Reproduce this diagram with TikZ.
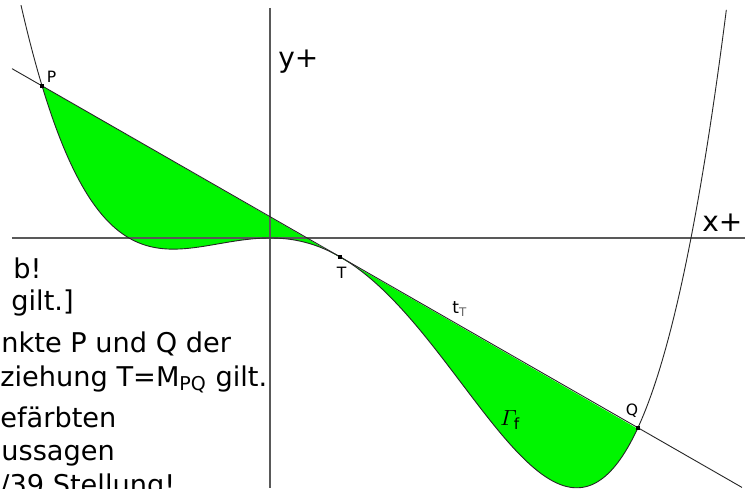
\documentclass[tikz,border=0pt]{standalone}
\usepackage{amsmath}
\usepackage{fontspec}
\setmainfont{DejaVu Sans}
\definecolor{gfill}{RGB}{0,245,0}
\begin{document}
\begin{tikzpicture}[x=50pt,y=50pt,
  declare function={f(\x)=0.05189*\x*\x*(\x+1.41)*(\x-4.21);
    df(\x)=0.05189*(4*\x*\x*\x-8.4*\x*\x-11.8722*\x);},
  axis/.style={draw=black!65, line width=0.75pt},
  graph/.style={draw=black!85, line width=0.45pt},
  ptmark/.style={fill=black, minimum size=2pt, inner sep=0pt, rectangle},
  body/.style={font=\fontsize{13.6}{16}\selectfont, anchor=base west, inner sep=0pt},
  axlabel/.style={font=\fontsize{14}{16}\selectfont, anchor=base west, inner sep=0pt},
  small/.style={font=\fontsize{7.8}{9}\selectfont, anchor=base west, inner sep=0pt}]
\useasboundingbox (-2.70,-2.50) rectangle (4.85,2.38);
\clip (-2.70,-2.50) rectangle (4.85,2.38);
\fill[white] (-2.70,-2.50) rectangle (4.85,2.38);
% key points
\coordinate (P) at (-2.279,{f(-2.279)});
\coordinate (T) at (0.70,{f(0.70)});
\coordinate (Q) at (3.679,{f(3.679)});
\coordinate (L1) at (-2.58,{f(0.7)+df(0.7)*(-2.58-0.7)});
\coordinate (L2) at (4.72,{f(0.7)+df(0.7)*(4.72-0.7)});
\coordinate (XA) at (-2.58,0);
\coordinate (XB) at (4.75,0);
\coordinate (YA) at (0,2.30);
\coordinate (YB) at (0,-2.50);
% text of the slide behind
\node[body] (t1) at (-2.57,-0.40) {b!};
\node[body] (t2) at (-2.59,-0.72) {gilt.]};
\node[body] (t3) at (-2.69,-1.14) {nkte P und Q der};
\node[body] (t4) at (-2.70,-1.48) {ziehung T=M\textsubscript{PQ} gilt.};
\node[body] (t5) at (-2.70,-1.89) {efärbten};
\node[body] (t6) at (-2.69,-2.22) {ussagen};
\node[body] (t7) at (-2.70,-2.56) {/39 Stellung!};
% green area
\fill[gfill] plot[domain=-2.279:3.679, samples=300] (\x,{f(\x)}) -- cycle;
% axes
\draw[axis] (XA) -- (XB);
\draw[axis] (YA) -- (YB);
\node[axlabel] (ylab) at (0.08,1.71) {y+};
\node[axlabel] (xlab) at (4.32,0.07) {x+};
% graph and tangent
\draw[graph] plot[domain=-2.49:4.565, samples=300] (\x,{f(\x)});
\draw[graph] (L1) -- (L2);
\node[ptmark] (Pm) at (P) {};
\node[ptmark] (Tm) at (T) {};
\node[ptmark] (Qm) at (Q) {};
\node[small] (Plab) at (-2.235,1.56) {P};
\node[small] (Tlab) at (0.665,-0.40) {T};
\node[small] (Qlab) at (3.555,-1.77) {Q};
\node[small, font=\fontsize{8.5}{9}\selectfont] (tlab) at (1.82,-0.75) {t\textsubscript{\color{black!60}T}};
\node[anchor=base west, inner sep=0pt, font=\fontsize{11}{12}\selectfont] (glab) at (2.30,-1.87) {$\varGamma_{\mathrm{f}}$};
\end{tikzpicture}
\end{document}
